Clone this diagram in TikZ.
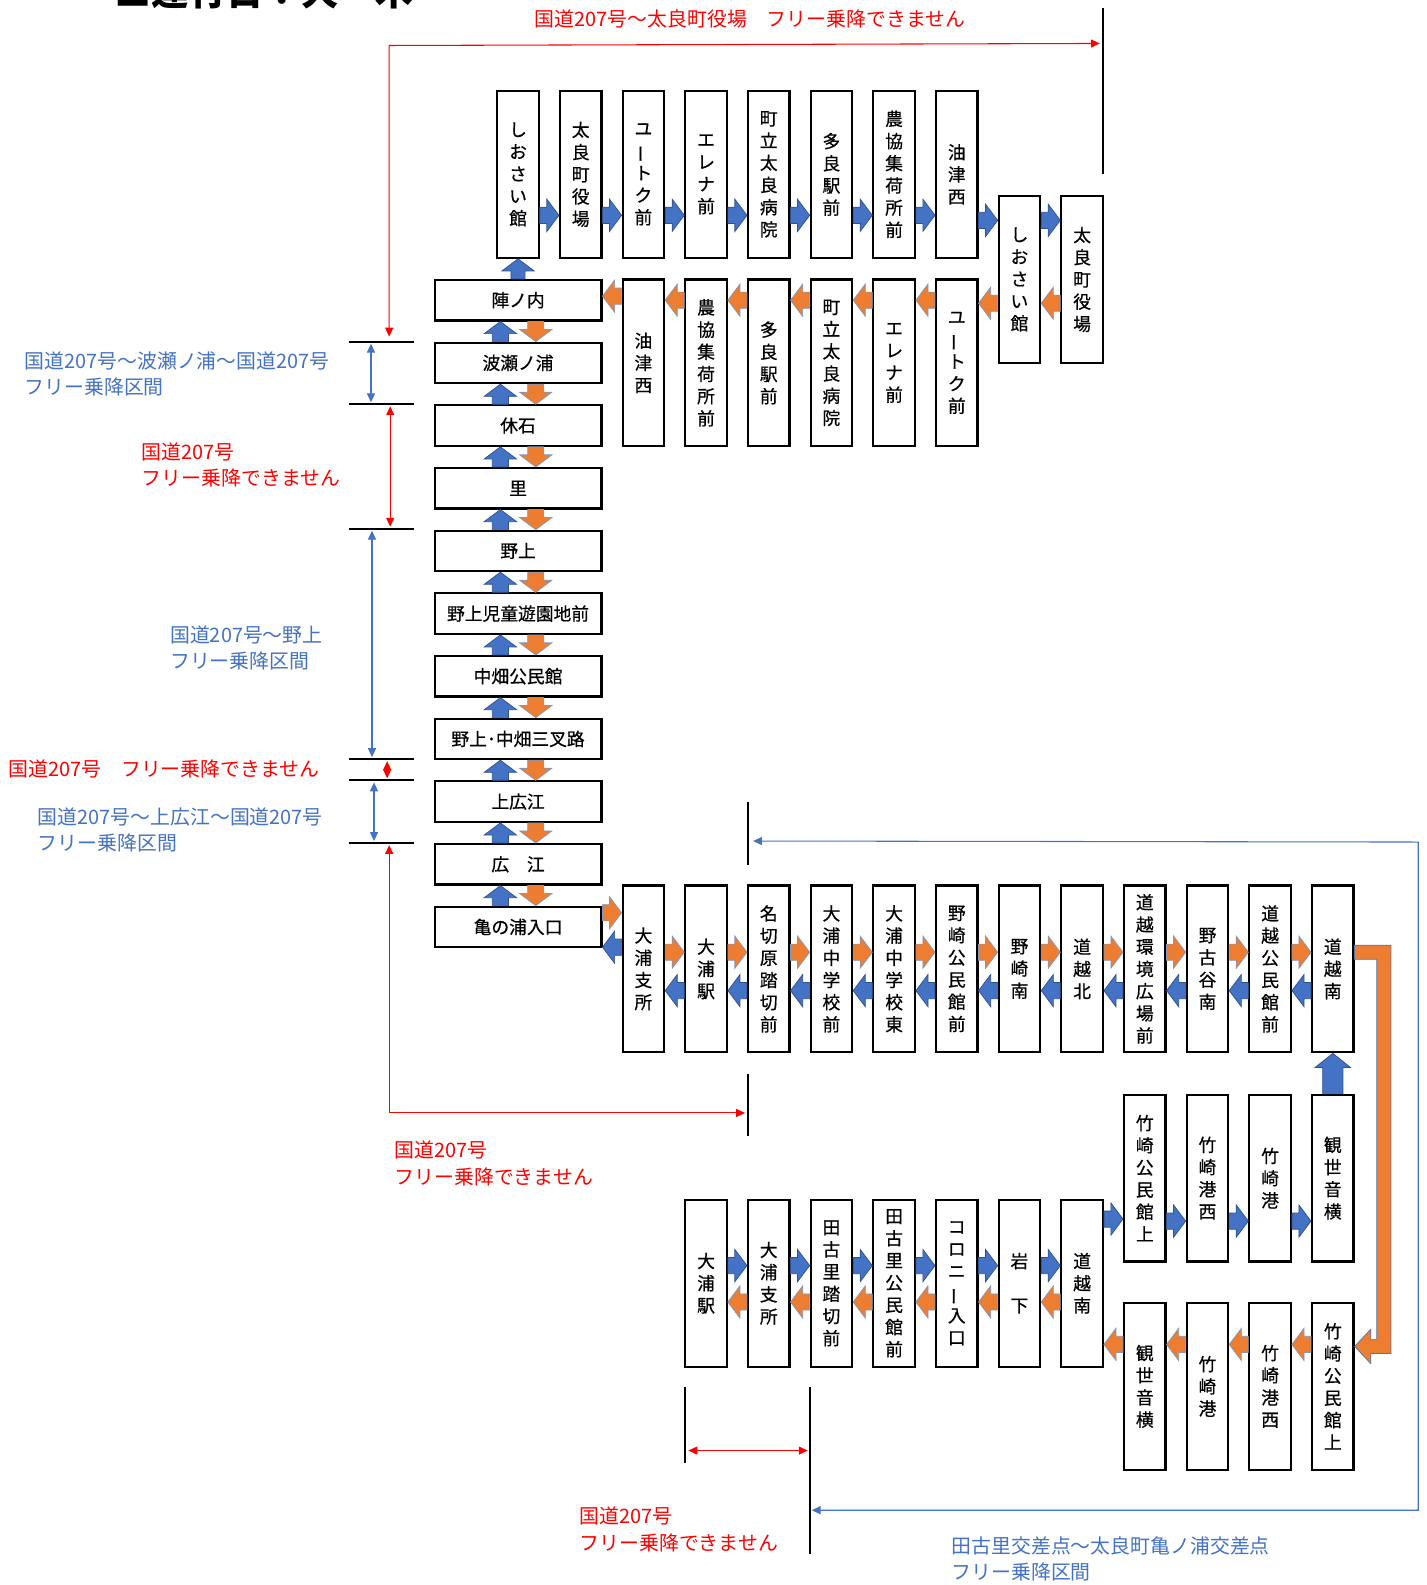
\documentclass[tikz,border=0pt]{standalone}
\usepackage{fontspec}
\setmainfont{Noto Sans CJK JP}
\newfontfamily\boxfont{Noto Sans CJK JP}[FakeBold=0.6]
\usetikzlibrary{calc,arrows.meta}
\definecolor{kblue}{HTML}{4472C4}
\definecolor{korange}{HTML}{ED7D31}
\definecolor{kedge}{HTML}{2F528F}
\definecolor{kred}{HTML}{FF0000}
\newcommand{\tate}{\rotatebox[origin=c]{90}{ー}}
\tikzset{fa shaft/.store in=\fashaft, fa head/.store in=\fahead, fa len/.store in=\falen,
  fa shaft=0.16cm, fa head=0.32cm, fa len=0.24cm}
% block arrow from #2 to #3
\newcommand{\fatarrow}[3][]{%
  \filldraw[#1] (#2) coordinate (fas) (#3) coordinate (fae) ($(fae)!\falen!(fas)$) coordinate (fac)
    ($(fas)!\fashaft!90:(fae)$) -- ($(fac)!\fashaft!90:(fae)$) -- ($(fac)!\fahead!90:(fae)$) -- (fae)
    -- ($(fac)!\fahead!-90:(fae)$) -- ($(fac)!\fashaft!-90:(fae)$) -- ($(fas)!\fashaft!-90:(fae)$) -- cycle;}
\begin{document}
\begin{tikzpicture}[x=0.02cm, y=-0.02cm, >={Triangle[length=5pt,width=4.5pt]},
  vstop/.style={draw, line width=1.2pt, minimum width=0.82cm, minimum height=3.3cm, inner sep=0pt,
    align=center, font=\boxfont\fontsize{10}{12.5}\selectfont},
  hstop/.style={draw, line width=1.2pt, minimum width=3.3cm, minimum height=0.8cm, inner sep=0pt,
    font=\boxfont\fontsize{10}{12}\selectfont},
  blu/.style={fill=kblue, draw=kedge, line width=0.4pt},
  org/.style={fill=korange, draw=kedge!60, line width=0.4pt},
  big/.style={fa shaft=0.2cm, fa head=0.35cm, fa len=0.28cm},
  bar/.style={draw=black, line width=1.1pt},
  rline/.style={draw=kred, line width=0.6pt},
  bline/.style={draw=kblue, line width=0.6pt},
  note/.style={anchor=base west, inner sep=0pt, align=left, font=\fontsize{11.2}{14.8}\selectfont}]
\useasboundingbox (0,0) rectangle (1411,1568);

\node[font=\fontsize{21}{21}\selectfont\bfseries, anchor=base west, inner sep=0pt] (ttl) at (113,5) {■運行日：火・木};

% upper loop
\foreach \t [count=\i from 0] in {{し\\お\\さ\\い\\館},{太\\良\\町\\役\\場},{ユ\\\tate\\ト\\ク\\前},{エ\\レ\\ナ\\前},
    {町\\立\\太\\良\\病\\院},{多\\良\\駅\\前},{農\\協\\集\\荷\\所\\前},{油\\津\\西}}
  \node[vstop] (a\i) at (512.5+62*\i,172.5) {\t};
\node[vstop] (a8) at (1008.5,276.5) {し\\お\\さ\\い\\館};
\node[vstop] (a9) at (1070.5,276.5) {太\\良\\町\\役\\場};
\foreach \t [count=\i from 0] in {{油\\津\\西},{農\\協\\集\\荷\\所\\前},{多\\良\\駅\\前},{町\\立\\太\\良\\病\\院},
    {エ\\レ\\ナ\\前},{ユ\\\tate\\ト\\ク\\前}}
  \node[vstop] (b\i) at (636.5+62*\i,359) {\t};

% left column
\foreach \t [count=\i from 0] in {陣ノ内,波瀬ノ浦,休石,里,野上,野上児童遊園地前,中畑公民館,野上･中畑三叉路,上広江,広　江,亀の浦入口}
  \node[hstop] (l\i) at (512.5,297+62*\i) {\t};

% lower rows
\foreach \t [count=\i from 0] in {{大\\浦\\支\\所},{大\\浦\\駅},{名\\切\\原\\踏\\切\\前},{大\\浦\\中\\学\\校\\前},
    {大\\浦\\中\\学\\校\\東},{野\\崎\\公\\民\\館\\前},{野\\崎\\南},{道\\越\\北},{道\\越\\環\\境\\広\\場\\前},
    {野\\古\\谷\\南},{道\\越\\公\\民\\館\\前},{道\\越\\南}}
  \node[vstop] (c\i) at (636.5+62*\i,958.5) {\t};
\foreach \t [count=\i from 0] in {{竹\\崎\\公\\民\\館\\上},{竹\\崎\\港\\西},{竹\\崎\\港},{観\\世\\音\\横}}
  \node[vstop] (d\i) at (1132.5+62*\i,1165.5) {\t};
\foreach \t [count=\i from 0] in {{大\\浦\\駅},{大\\浦\\支\\所},{田\\古\\里\\踏\\切\\前},{田\\古\\里\\公\\民\\館\\前},
    {コ\\ロ\\ニ\\\tate\\入\\口},{岩\\\mbox{}\\下},{道\\越\\南}}
  \node[vstop] (e\i) at (698.5+62*\i,1269.5) {\t};
\foreach \t [count=\i from 0] in {{観\\世\\音\\横},{竹\\崎\\港},{竹\\崎\\港\\西},{竹\\崎\\公\\民\\館\\上}}
  \node[vstop] (f\i) at (1132.5+62*\i,1371.5) {\t};

% block arrows
\foreach \i [count=\j from 1] in {0,...,6} {
  \fatarrow[blu]{a\i.east |- 0,213}{a\j.west |- 0,213}
}
\fatarrow[blu]{a7.east |- 0,218}{a8.west |- 0,218}
\fatarrow[blu]{a8.east |- 0,218}{a9.west |- 0,218}
\fatarrow[org]{a9.west |- 0,300}{a8.east |- 0,300}
\fatarrow[org]{a8.west |- 0,300}{b5.east |- 0,300}
\foreach \i [count=\j from 1] in {0,...,4} {
  \fatarrow[org]{b\j.west |- 0,297}{b\i.east |- 0,297}
}
\fatarrow[org]{b0.west |- 0,293}{l0.east |- 0,293}
\fatarrow[blu,fa shaft=0.14cm]{l0.north}{a0.south}
\foreach \i [count=\j from 1] in {0,...,9} {
  \fatarrow[blu]{l\j.north -| 495,0}{l\i.south -| 495,0}
  \fatarrow[org]{l\i.south -| 530,0}{l\j.north -| 530,0}
}
\fatarrow[org]{l10.east |- 0,903}{c0.west |- 0,903}
\fatarrow[blu]{c0.west |- 0,937}{l10.east |- 0,937}
\foreach \i [count=\j from 1] in {0,...,10} {
  \fatarrow[org]{c\i.east |- 0,942}{c\j.west |- 0,942}
  \fatarrow[blu]{c\j.west |- 0,980}{c\i.east |- 0,980}
}
\filldraw[org, draw=kedge!80] ($(c11.east)+(0,-23.5)$) -- ++(36,0) -- ($(f3.east)+(36,-32.5)$) -- ($(f3.east)+(16,-32.5)$)
  -- ($(f3.east)+(16,-22.5)$) -- ($(f3.east)+(0,-39.5)$) -- ($(f3.east)+(16,-56.5)$) -- ($(f3.east)+(16,-46.5)$)
  -- ($(f3.east)+(22,-46.5)$) -- ($(c11.east)+(22,-9.5)$) -- ($(c11.east)+(0,-9.5)$) -- cycle;
\foreach \i [count=\j from 1] in {0,...,2} {
  \fatarrow[org]{f\j.west |- 0,1330}{f\i.east |- 0,1330}
}
\fatarrow[org]{f0.west |- 0,1330}{e6.east |- 0,1330}
\foreach \i [count=\j from 1] in {0,...,5} {
  \fatarrow[blu]{e\i.east |- 0,1252}{e\j.west |- 0,1252}
  \fatarrow[org]{e\j.west |- 0,1288}{e\i.east |- 0,1288}
}
\fatarrow[blu]{e6.east |- 0,1206}{d0.west |- 0,1206}
\foreach \i [count=\j from 1] in {0,...,2} {
  \fatarrow[blu]{d\i.east |- 0,1208}{d\j.west |- 0,1208}
}
\fatarrow[blu,big]{d3.north}{c11.south}

% section marks
\foreach \y [count=\i] in {338,400,523,751,772,834} {
  \coordinate (t\i) at (345,\y);
  \draw[bar] (t\i) -- ++(65,0);
}
\coordinate (v0) at (1091,8);
\coordinate (v1) at (740,1062);
\coordinate (v2) at (740,793);
\coordinate (v3) at (678,1372);
\coordinate (v4) at (801,1372);
\draw[bar] (v0) -- ++(0,164);
\draw[bar] (v1) -- ++(0,62);
\draw[bar] (v2) -- ++(0,63);
\draw[bar] (v3) -- ++(0,75);
\draw[bar] (v4) -- ++(0,165);

\draw[rline,<->] ($(t1)+(40,-5)$) -- ($(t1)+(40,-293)$) -- ($(v0)+(-3,35)$);
\draw[bline,<->] ($(t1)+(22,2)$) -- ($(t2)+(22,-2)$);
\draw[rline,<->] ($(t2)+(41,2)$) -- ($(t3)+(41,-2)$);
\draw[bline,<->] ($(t3)+(23,2)$) -- ($(t4)+(23,-2)$);
\draw[rline,<->] ($(t4)+(38,2)$) -- ($(t5)+(38,-2)$);
\draw[bline,<->] ($(t5)+(25,2)$) -- ($(t6)+(25,-2)$);
\draw[rline,<->] ($(t6)+(40,2)$) -- ($(t6)+(40,267)$) -- ($(v1)+(-3,39)$);
\draw[bline,<->] ($(v2)+(5,39)$) -- ($(v2)+(663,40)$) -- ($(v4)+(602,122)$) -- ($(v4)+(2,122)$);
\draw[rline,<->] ($(v3)+(3,63)$) -- ($(v4)+(-2,63)$);

% notes (base = last line)
\node[note, anchor=base, text=kred] (n0) at (742,26) {国道207号～太良町役場　フリー乗降できません};
\node[note, text=kblue] (n1) at (24,390.5) {国道207号～波瀬ノ浦～国道207号\\フリー乗降区間};
\node[note, text=kred] (n2) at (140,480.5) {国道207号\\フリー乗降できません};
\node[note, text=kblue] (n3) at (168,661.5) {国道207号～野上\\フリー乗降区間};
\node[note, text=kred] (n4) at (8,768.5) {国道207号　フリー乗降できません};
\node[note, text=kblue] (n5) at (37,841.5) {国道207号～上広江～国道207号\\フリー乗降区間};
\node[note, text=kred] (n6) at (390,1171.5) {国道207号\\フリー乗降できません};
\node[note, text=kred] (n7) at (573,1533.5) {国道207号\\フリー乗降できません};
\node[note, text=kblue] (n8) at (941,1562.5) {田古里交差点～太良町亀ノ浦交差点\\フリー乗降区間};
\end{tikzpicture}
\end{document}
